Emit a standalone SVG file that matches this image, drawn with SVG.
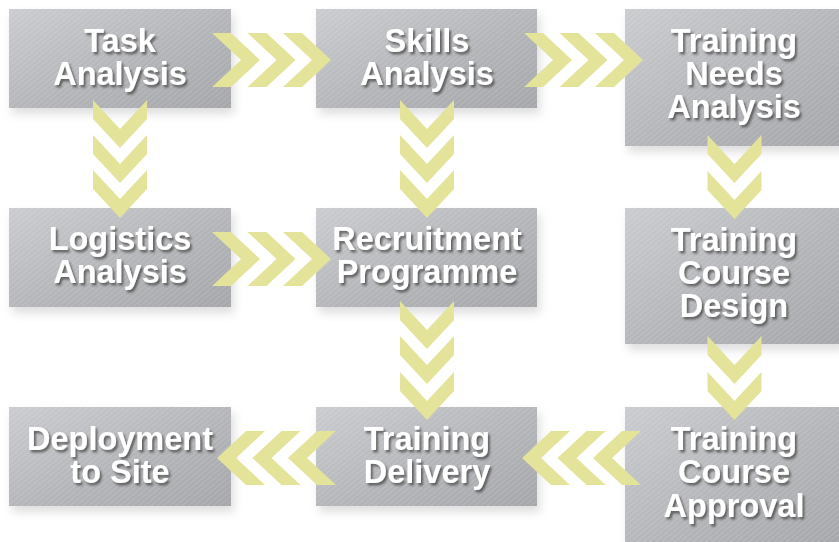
<svg xmlns="http://www.w3.org/2000/svg" width="839" height="542" viewBox="0 0 839 542">
<defs>
  <linearGradient id="boxGrad" x1="0" y1="0" x2="1" y2="1">
    <stop offset="0" stop-color="#cbcccf"/>
    <stop offset="0.55" stop-color="#b4b5b8"/>
    <stop offset="1" stop-color="#a6a7aa"/>
  </linearGradient>
  <pattern id="hatch" width="4" height="4" patternUnits="userSpaceOnUse" patternTransform="rotate(-40)">
    <rect x="0" y="0" width="4" height="1" fill="#ffffff" fill-opacity="0.13"/>
  </pattern>
  <filter id="boxShadow" x="-10%" y="-10%" width="125%" height="135%">
    <feDropShadow dx="3" dy="6" stdDeviation="5" flood-color="#000" flood-opacity="0.13"/>
  </filter>
  <filter id="textShadow" x="-10%" y="-20%" width="120%" height="150%">
    <feDropShadow dx="2" dy="2.5" stdDeviation="0.9" flood-color="#3a3a3a" flood-opacity="0.7"/>
  </filter>
  <path id="chev" d="M0,-27 L19,-27 L48,0 L19,27 L0,27 L29,0 Z"/>
</defs>
<style>
  .box { fill: url(#boxGrad); filter: url(#boxShadow); }
  .hatch { fill: url(#hatch); }
  .lbl { font-family: "Liberation Sans", Arial, sans-serif; font-weight: bold; font-size: 32.5px; fill: #ffffff; text-anchor: middle; filter: url(#textShadow); }
  .arrow use { fill: #e3e49a; }
</style>

<g id="task-analysis">
  <rect class="box" x="9" y="9" width="222" height="99"/>
  <rect class="hatch" x="9" y="9" width="222" height="99"/>
  <text class="lbl" x="120" y="52">Task</text>
  <text class="lbl" x="120" y="84.5">Analysis</text>
</g>
<g id="skills-analysis">
  <rect class="box" x="316" y="9" width="221" height="99"/>
  <rect class="hatch" x="316" y="9" width="221" height="99"/>
  <text class="lbl" x="427" y="52">Skills</text>
  <text class="lbl" x="427" y="84.5">Analysis</text>
</g>
<g id="training-needs-analysis">
  <rect class="box" x="625" y="9" width="218" height="137"/>
  <rect class="hatch" x="625" y="9" width="218" height="137"/>
  <text class="lbl" x="734" y="52">Training</text>
  <text class="lbl" x="734" y="85">Needs</text>
  <text class="lbl" x="734" y="118">Analysis</text>
</g>
<g id="logistics-analysis">
  <rect class="box" x="9" y="208" width="222" height="99"/>
  <rect class="hatch" x="9" y="208" width="222" height="99"/>
  <text class="lbl" x="120" y="250">Logistics</text>
  <text class="lbl" x="120" y="283">Analysis</text>
</g>
<g id="recruitment-programme">
  <rect class="box" x="316" y="208" width="221" height="99"/>
  <rect class="hatch" x="316" y="208" width="221" height="99"/>
  <text class="lbl" x="427" y="250">Recruitment</text>
  <text class="lbl" x="427" y="283">Programme</text>
</g>
<g id="training-course-design">
  <rect class="box" x="625" y="208" width="218" height="136"/>
  <rect class="hatch" x="625" y="208" width="218" height="136"/>
  <text class="lbl" x="734" y="251">Training</text>
  <text class="lbl" x="734" y="284">Course</text>
  <text class="lbl" x="734" y="317">Design</text>
</g>
<g id="deployment-to-site">
  <rect class="box" x="9" y="407" width="222" height="99"/>
  <rect class="hatch" x="9" y="407" width="222" height="99"/>
  <text class="lbl" x="120" y="450">Deployment</text>
  <text class="lbl" x="120" y="483">to Site</text>
</g>
<g id="training-delivery">
  <rect class="box" x="316" y="407" width="221" height="99"/>
  <rect class="hatch" x="316" y="407" width="221" height="99"/>
  <text class="lbl" x="427" y="450">Training</text>
  <text class="lbl" x="427" y="483">Delivery</text>
</g>
<g id="training-course-approval">
  <rect class="box" x="625" y="407" width="218" height="140"/>
  <rect class="hatch" x="625" y="407" width="218" height="140"/>
  <text class="lbl" x="734" y="450">Training</text>
  <text class="lbl" x="734" y="483">Course</text>
  <text class="lbl" x="734" y="517">Approval</text>
</g>

<g id="connectors" class="arrow">
  <!-- Task -> Skills -->
  <use href="#chev" transform="translate(212,60)"/>
  <use href="#chev" transform="translate(247.5,60)"/>
  <use href="#chev" transform="translate(283,60)"/>
  <!-- Skills -> TNA -->
  <use href="#chev" transform="translate(524,60)"/>
  <use href="#chev" transform="translate(559.5,60)"/>
  <use href="#chev" transform="translate(595,60)"/>
  <!-- Logistics -> Recruitment -->
  <use href="#chev" transform="translate(212,259)"/>
  <use href="#chev" transform="translate(247.5,259)"/>
  <use href="#chev" transform="translate(283,259)"/>
  <!-- Task -> Logistics -->
  <use href="#chev" transform="translate(120,100) rotate(90)"/>
  <use href="#chev" transform="translate(120,135) rotate(90)"/>
  <use href="#chev" transform="translate(120,170) rotate(90)"/>
  <!-- Skills -> Recruitment -->
  <use href="#chev" transform="translate(427,100) rotate(90)"/>
  <use href="#chev" transform="translate(427,135) rotate(90)"/>
  <use href="#chev" transform="translate(427,170) rotate(90)"/>
  <!-- TNA -> TCD -->
  <use href="#chev" transform="translate(734.5,135) rotate(90)"/>
  <use href="#chev" transform="translate(734.5,171) rotate(90)"/>
  <!-- TCD -> TCA -->
  <use href="#chev" transform="translate(734.5,336) rotate(90)"/>
  <use href="#chev" transform="translate(734.5,372) rotate(90)"/>
  <!-- Recruitment -> Delivery -->
  <use href="#chev" transform="translate(427,301) rotate(90)"/>
  <use href="#chev" transform="translate(427,336) rotate(90)"/>
  <use href="#chev" transform="translate(427,372) rotate(90)"/>
  <!-- Approval -> Delivery -->
  <use href="#chev" transform="translate(641,458) rotate(180)"/>
  <use href="#chev" transform="translate(605.5,458) rotate(180)"/>
  <use href="#chev" transform="translate(570,458) rotate(180)"/>
  <!-- Delivery -> Deployment -->
  <use href="#chev" transform="translate(336,458) rotate(180)"/>
  <use href="#chev" transform="translate(300.5,458) rotate(180)"/>
  <use href="#chev" transform="translate(265,458) rotate(180)"/>
</g>
</svg>
